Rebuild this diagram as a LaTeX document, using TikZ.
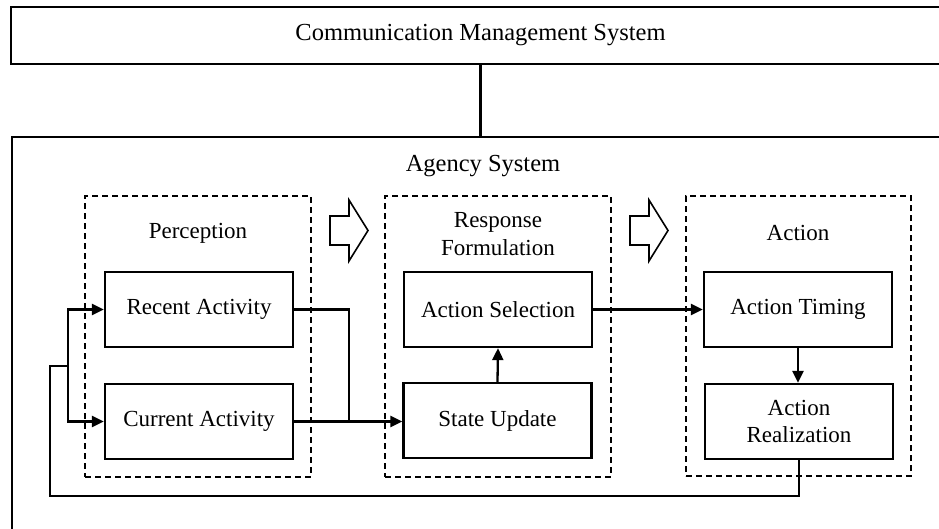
\documentclass[tikz,border=0pt]{standalone}
\usepackage{fontspec}
\setmainfont{Liberation Serif}
\usetikzlibrary{arrows.meta}
\begin{document}
\begin{tikzpicture}[x=1pt,y=-1pt,
  txt/.style={font=\fontsize{23}{27.5}\selectfont, align=center, inner sep=0pt},
  frame/.style={draw, line width=2.3pt},
  stage/.style={draw, line width=1.9pt, dash pattern=on 6pt off 4pt},
  block/.style={frame, txt, minimum width=188pt, minimum height=75pt},
  link/.style={line width=2.3pt},
  arr/.style={link, -{Triangle[length=12pt,width=11pt]}},
  bigarrow/.style={draw, line width=1.6pt, line join=miter}
]
\useasboundingbox (0,0) rectangle (939,528);
\clip (0,0) rectangle (939,528);

% outer systems
\node[frame, txt, minimum width=939pt, minimum height=57pt,
      font=\fontsize{24.5}{28}\selectfont] (cms) at (480.5,35.5) {Communication Management System};
\node[frame, minimum width=948pt, minimum height=440pt, inner sep=0pt] (agency) at (486,357) {};
\node[txt, font=\fontsize{24.5}{28}\selectfont] (agencylbl) at (483,166) {Agency System};
\draw[link] (cms.south) -- (cms.south |- agency.north);

% stage frames
\node[stage, minimum width=226pt, minimum height=281pt, inner sep=0pt] (perc) at (198,336.5) {};
\node[stage, minimum width=226pt, minimum height=281pt, inner sep=0pt] (resp) at (498,336.5) {};
\node[stage, minimum width=225pt, minimum height=280pt, inner sep=0pt] (act) at (798.5,336) {};
\node[txt] (perclbl) at (198,233) {Perception};
\node[txt] (resplbl) at (498,234) {Response\\Formulation};
\node[txt] (actlbl) at (798,233) {Action};

% hollow arrows between stages
\draw[bigarrow] (330,216) -- (349,216) -- (349,200) -- (368,230.5) -- (349,261) -- (349,245) -- (330,245) -- cycle;
\draw[bigarrow] (630,216) -- (649,216) -- (649,200) -- (668,230.5) -- (649,261) -- (649,245) -- (630,245) -- cycle;

% components
\node[block] (recent) at (199,309.5) {Recent Activity};
\node[block] (current) at (199,421.5) {Current Activity};
\node[block] (select) at (498,309.5) {Action Selection};
\node[block] (state) at (497.5,420.5) {State Update};
\node[block] (timing) at (798,309.5) {Action Timing};
\node[block] (realize) at (799,421.5) {Action\\Realization};

% connectors
\coordinate (merge) at (349,421.5);
\coordinate (fbl) at (50,496);
\coordinate (split) at (68,366);
\draw[link] (recent.east) -| (merge);
\draw[arr] (current.east) -- (current.east -| state.west);
\draw[arr] (state.north) -- (select.south);
\draw[arr] (select.east) -- (timing.west);
\draw[arr] (timing.south) -- (timing.south |- realize.north);
\draw[link] (realize.south) |- (fbl) |- (split);
\draw[arr] (split) |- (recent.west);
\draw[arr] (split) |- (current.west);
\end{tikzpicture}
\end{document}
